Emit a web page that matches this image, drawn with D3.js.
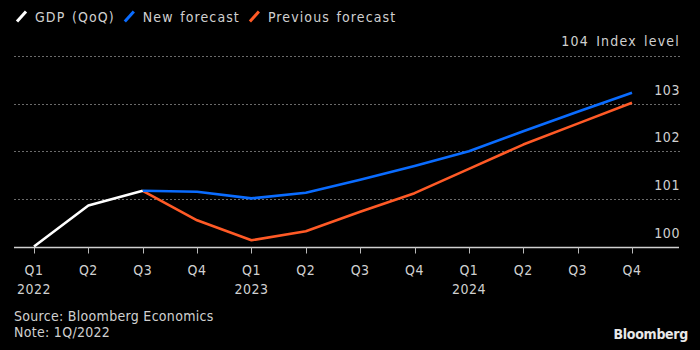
<!DOCTYPE html>
<html><head><meta charset="utf-8">
<script src="https://cdn.jsdelivr.net/npm/d3@7"></script>
<style>
html,body{margin:0;padding:0;background:#000;}
svg{display:block;}
text{font-family:"DejaVu Sans Condensed","DejaVu Sans",sans-serif;fill:#d0d0d0;}
</style></head>
<body>
<script>
const quarters = ["Q1 2022","Q2 2022","Q3 2022","Q4 2022","Q1 2023","Q2 2023","Q3 2023","Q4 2023","Q1 2024","Q2 2024","Q3 2024","Q4 2024"];
const quarterLabels = ["Q1","Q2","Q3","Q4","Q1","Q2","Q3","Q4","Q1","Q2","Q3","Q4"];
const yearLabels = ["2022","","","","2023","","","","2024","","",""];
const gdpQuarters = ["Q1 2022","Q2 2022","Q3 2022"];
const gdpValues = [100.0, 100.86, 101.17];
const forecastQuarters = ["Q3 2022","Q4 2022","Q1 2023","Q2 2023","Q3 2023","Q4 2023","Q1 2024","Q2 2024","Q3 2024","Q4 2024"];
const newForecast = [101.17, 101.15, 101.01, 101.13, 101.40, 101.69, 102.0, 102.42, 102.83, 103.23];
const previousForecast = [101.17, 100.55, 100.13, 100.32, 100.73, 101.12, 101.63, 102.14, 102.58, 103.02];
const yTicks = [100, 101, 102, 103];
const yTopLabel = "104 Index level";
const legendItems = [["GDP (QoQ)","#ffffff"],["New forecast","#0a6cff"],["Previous forecast","#ff5a26"]];

const W = 700, H = 350;
const svg = d3.select("body").append("svg").attr("width", W).attr("height", H);
svg.append("rect").attr("width", W).attr("height", H).attr("fill", "#000");

const x = d3.scalePoint().domain(quarters).range([34, 632]);
const y = d3.scaleLinear().domain([100, 104]).range([246.5, 56]);

// gridlines
[101,102,103,104].forEach(v => {
  svg.append("line").attr("x1", 14).attr("x2", 680).attr("y1", Math.round(y(v))+0.5).attr("y2", Math.round(y(v))+0.5)
    .attr("stroke", "#6a6a6a").attr("stroke-width", 1).attr("stroke-dasharray", "2,2");
});

// right labels
yTicks.forEach(v => {
  svg.append("text").attr("x", 680).attr("y", y(v) - 9).attr("text-anchor", "end")
    .attr("font-size", 14).attr("letter-spacing", 0.6).text(v);
});
svg.append("text").attr("x", 680).attr("y", y(104) - 10).attr("text-anchor", "end")
  .attr("font-size", 14).attr("letter-spacing", 1.2).attr("word-spacing", 2).text(yTopLabel);

// baseline axis
const ax = svg.append("g").attr("transform", `translate(0,${Math.round(y(100))+0.5})`);
ax.append("line").attr("x1", 14).attr("x2", 679).attr("stroke", "#d0d0d0").attr("stroke-width", 1.5);
quarters.forEach((q, i) => {
  ax.append("line").attr("x1", Math.round(x(q))+0.5).attr("x2", Math.round(x(q))+0.5).attr("y1", 0).attr("y2", 6)
    .attr("stroke", "#bbbbbb").attr("stroke-width", 1);
  ax.append("text").attr("x", x(q)).attr("y", 27.5).attr("text-anchor", "middle").attr("font-size", 14)
    .attr("letter-spacing", 0.5).text(quarterLabels[i]);
  if (yearLabels[i]) ax.append("text").attr("x", x(q)).attr("y", 46.5).attr("text-anchor", "middle").attr("font-size", 14)
    .attr("letter-spacing", 0.5).text(yearLabels[i]);
});

const line = d3.line().x(d => x(d[0])).y(d => y(d[1]));
function draw(qs, vals, color) {
  svg.append("path").datum(qs.map((q, i) => [q, vals[i]])).attr("d", line)
    .attr("fill", "none").attr("stroke", color).attr("stroke-width", 2.6).attr("stroke-linejoin", "round");
}
draw(forecastQuarters, previousForecast, legendItems[2][1]);
draw(forecastQuarters, newForecast, legendItems[1][1]);
draw(gdpQuarters, gdpValues, legendItems[0][1]);

// legend
let lx = 17;
legendItems.forEach(([label, color]) => {
  svg.append("line").attr("x1", lx).attr("y1", 21.5).attr("x2", lx + 9).attr("y2", 11.5)
    .attr("stroke", color).attr("stroke-width", 3);
  const t = svg.append("text").attr("x", lx + 18).attr("y", 21.5).attr("font-size", 14)
    .attr("letter-spacing", 1.1).attr("word-spacing", 1.5).text(label);
  lx += 18 + t.node().getComputedTextLength() + 10;
});

// footer
svg.append("text").attr("x", 14).attr("y", 321).attr("font-size", 14).attr("letter-spacing", 0.3).text("Source: Bloomberg Economics");
svg.append("text").attr("x", 14).attr("y", 337).attr("font-size", 14).attr("letter-spacing", 0.3).text("Note: 1Q/2022");
svg.append("text").attr("x", 688).attr("y", 339).attr("text-anchor", "end").attr("font-size", 14)
  .attr("font-weight", "bold").style("fill", "#e8e8e8").style("font-family", "'Liberation Sans Narrow','DejaVu Sans Condensed',sans-serif").attr("letter-spacing", "-0.3").text("Bloomberg");
</script>
</body></html>
